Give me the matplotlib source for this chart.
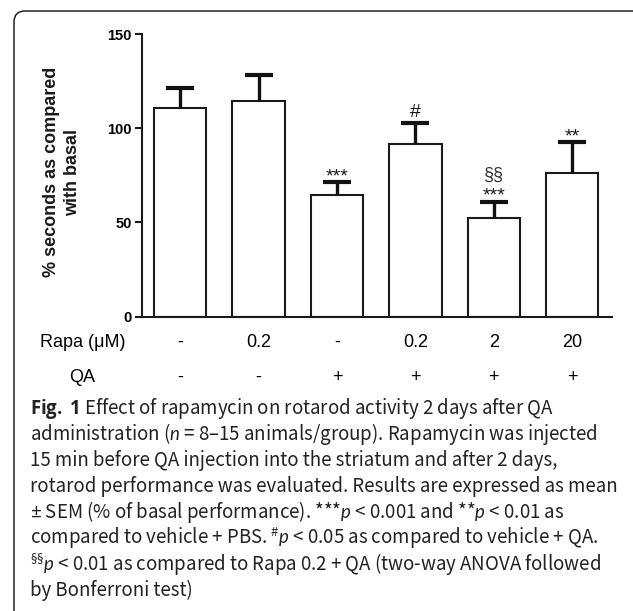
import matplotlib
matplotlib.use('Agg')
import matplotlib.pyplot as plt
import matplotlib.transforms as mtransforms
from matplotlib.patches import FancyBboxPatch
import numpy as np

# ---------------- data ----------------
rapa_labels = ['-', '0.2', '-', '0.2', '2', '20']
qa_labels = ['-', '-', '+', '+', '+', '+']
means = [110.6, 114.4, 64.4, 91.6, 52.4, 76.1]
sems = [10.5, 14.0, 6.9, 11.2, 8.6, 16.6]
star_marks = ['', '', '***', '', '***', '**']
hash_marks = ['', '', '', '#', '', '']
section_marks = ['', '', '', '', '§§', '']
y_ticks = [0, 50, 100, 150]
y_label = '% seconds as compared\nwith basal'
row_titles = ['Rapa (μM)', 'QA']
caption_lines = [
    r'$\mathbf{Fig.\ 1}$ Effect of rapamycin on rotarod activity 2 days after QA',
    r'administration ($n$ = 8–15 animals/group). Rapamycin was injected',
    r'15 min before QA injection into the striatum and after 2 days,',
    r'rotarod performance was evaluated. Results are expressed as mean',
    r'$\mathsf{±}$ SEM (% of basal performance). ***$p$ < 0.001 and **$p$ < 0.01 as',
    r'compared to vehicle + PBS. ${}^{\#}p$ < 0.05 as compared to vehicle + QA.',
    r'${}^{\mathsf{§§}}p$ < 0.01 as compared to Rapa 0.2 + QA (two-way ANOVA followed',
    r'by Bonferroni test)',
]

# ---------------- style ----------------
W, H = 633, 611
CAP_FONT = 'Noto Sans CJK SC'
plt.rcParams['font.family'] = ['Liberation Sans', 'DejaVu Sans']
plt.rcParams['mathtext.fontset'] = 'custom'
plt.rcParams['mathtext.rm'] = CAP_FONT
plt.rcParams['mathtext.it'] = 'Lato:italic'
plt.rcParams['mathtext.bf'] = 'Open Sans:bold'
plt.rcParams['mathtext.sf'] = 'Lato'
INK = '#1a1a1a'


def P(x, y):
    return x / W, 1 - y / H


fig = plt.figure(figsize=(W / 100, H / 100), dpi=100)
fig.patch.set_facecolor('white')

# rounded frame (right and bottom edges run off the canvas)
frame = FancyBboxPatch((0.14, -0.3), 6.40 - 0.14 + 0.2, 6.00 + 0.3,
                       boxstyle='round,pad=0,rounding_size=0.11',
                       transform=fig.dpi_scale_trans, fill=False,
                       edgecolor='#222222', linewidth=1.1, zorder=0)
fig.patches.append(frame)

ax_l, ax_r, ax_t, ax_b = 141.7, 612.3, 34.0, 316.7
ax = fig.add_axes([ax_l / W, 1 - ax_b / H, (ax_r - ax_l) / W, (ax_b - ax_t) / H])
x = np.arange(len(means))
ax.bar(x, means, width=0.667, color='white', edgecolor=INK, linewidth=1.5, zorder=2)
eb = ax.errorbar(x, means, yerr=[np.zeros(len(sems)), sems], fmt='none',
                 ecolor='#111111', elinewidth=2.4, capsize=10, capthick=3.0, zorder=3)
eb[1][0].set_visible(False)

ax.set_xlim(-0.49, 5.51)
ax.set_ylim(0, 150)
ax.set_yticks(y_ticks)
ax.set_xticks([])
for s in ['top', 'right']:
    ax.spines[s].set_visible(False)
for s in ['left', 'bottom']:
    ax.spines[s].set_linewidth(1.5)
    ax.spines[s].set_color(INK)
ax.tick_params(axis='y', length=5, width=1.5, color=INK, pad=2, labelsize=10.5)
for lab in ax.get_yticklabels():
    lab.set_fontweight('bold')

tops = np.array(means) + np.array(sems)
for i in range(len(means)):
    if star_marks[i]:
        ax.annotate(star_marks[i], (x[i], tops[i]), xytext=(0, 0.6),
                    textcoords='offset points', ha='center', va='baseline',
                    fontsize=14, color=INK)
    if hash_marks[i]:
        ax.annotate(hash_marks[i], (x[i], tops[i]), xytext=(0, 4.6),
                    textcoords='offset points', ha='center', va='baseline',
                    fontsize=14, color=INK)
    if section_marks[i]:
        ax.annotate(section_marks[i], (x[i], tops[i]), xytext=(0, 15.8),
                    textcoords='offset points', ha='center', va='baseline',
                    fontsize=13, color='#333333')

# y label
fig.text(*P(62, 172), y_label, rotation=90, ha='center', va='center',
         multialignment='center', fontsize=13, fontweight='bold',
         linespacing=1.35, color=INK)

# treatment table
bt = mtransforms.blended_transform_factory(ax.transData, fig.transFigure)
row_base = [347.3, 381.5]
for r, labels in enumerate([rapa_labels, qa_labels]):
    yb = 1 - row_base[r] / H
    fig.text(82.5 / W, yb, row_titles[r], ha='center', va='baseline',
             fontsize=13, color='black')
    for i, lab in enumerate(labels):
        fig.text(x[i], yb, lab, transform=bt, ha='center', va='baseline',
                 fontsize=13, color='black')

# caption (font size fitted to the reference line lengths)
renderer = fig.canvas.get_renderer()
base_fs = 12
cap_left = 30
target_ends = [555, 587, 561, 604, 563, 608, 617, 188]
cap_texts = []
for k, line in enumerate(caption_lines):
    yb = 414.2 + 26.04 * k
    t = fig.text(cap_left / W, 1 - yb / H, line, ha='left', va='baseline',
                 fontsize=base_fs, family=[CAP_FONT, 'DejaVu Sans'], color='#222222')
    cap_texts.append(t)
ours = sum(t.get_window_extent(renderer).width for t in cap_texts)
ref = sum(e - cap_left for e in target_ends)
fs = base_fs * ref / ours
for t in cap_texts:
    t.set_fontsize(fs)

fig.savefig('out.png', dpi=100)
